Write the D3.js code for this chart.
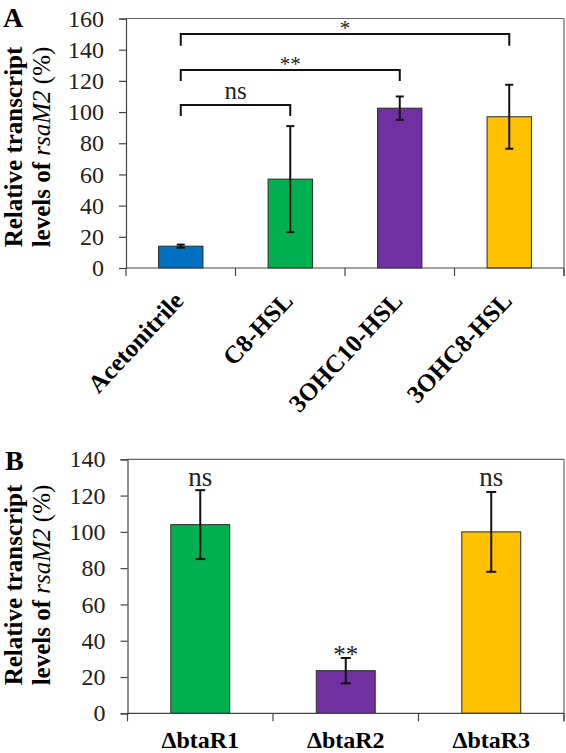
<!DOCTYPE html>
<html>
<head>
<meta charset="utf-8">
<script src="https://cdn.jsdelivr.net/npm/d3@7"></script>
<style>
  html, body { margin: 0; padding: 0; background: #fff; }
  svg { display: block; }
  svg text { font-family: 'Liberation Serif', 'Tinos', 'Times New Roman', 'DejaVu Serif', serif !important; }
</style>
</head>
<body>
<script>
// ---------- Panel A data ----------
const categoriesA = ["Acetonitrile", "C8-HSL", "3OHC10-HSL", "3OHC8-HSL"];
const valuesA = [14, 57, 102.5, 97];
const errorsA = [1, 34, 7.5, 20.5];
const colorsA = ["#0070C0", "#00B050", "#7030A0", "#FFC000"];
const ticksA = [0, 20, 40, 60, 80, 100, 120, 140, 160];
// significance brackets: from category index, to category index, bar level, leg end level, label
const bracketFrom = [0, 0, 0];
const bracketTo = [1, 2, 3];
const bracketLevel = [104.5, 127, 150];
const bracketLegEnd = [97.5, 120, 142.5];
const bracketLabels = ["ns", "**", "*"];

// ---------- Panel B data ----------
const categoriesB = ["\u0394btaR1", "\u0394btaR2", "\u0394btaR3"];
const valuesB = [104, 23.5, 100];
const errorsB = [19, 7, 22];
const colorsB = ["#00B050", "#7030A0", "#FFC000"];
const ticksB = [0, 20, 40, 60, 80, 100, 120, 140];
const labelsB = ["ns", "**", "ns"];

const W = 566, H = 753;
const FONT = "'Liberation Serif', 'Tinos', 'Times New Roman', serif";
const svg = d3.select("body").append("svg").attr("width", W).attr("height", H)
  .attr("font-family", FONT);

function yTitle(g, cy) {
  g.append("text")
    .attr("transform", `translate(21.5,${cy}) rotate(-90)`)
    .attr("text-anchor", "middle")
    .attr("font-size", 25).attr("font-weight", "bold")
    .text("Relative transcript");
  const t2 = g.append("text")
    .attr("transform", `translate(50,${cy}) rotate(-90)`)
    .attr("text-anchor", "middle")
    .attr("font-size", 25);
  t2.append("tspan").attr("font-weight", "bold").text("levels of ");
  t2.append("tspan").attr("font-style", "italic").text("rsaM2");
  t2.append("tspan").text(" (%)");
}

function frame(g, x0, x1, y0, y1, x, n) {
  g.append("line").attr("x1", x0).attr("x2", x1).attr("y1", y0).attr("y2", y0)
    .attr("stroke", "#666").attr("stroke-width", 1.2);
  g.append("line").attr("x1", x1).attr("x2", x1).attr("y1", y0).attr("y2", y1 + 8)
    .attr("stroke", "#666").attr("stroke-width", 1.2);
  const bw = x.bandwidth();
  g.selectAll(null).data(d3.range(n + 1)).join("line")
    .attr("x1", i => x0 + i * bw).attr("x2", i => x0 + i * bw)
    .attr("y1", y1).attr("y2", y1 + 8)
    .attr("stroke", "#444").attr("stroke-width", 1.2);
}

function bars(g, cats, vals, errs, cols, x, y, capW) {
  const bw = x.bandwidth() * 0.405;
  g.selectAll(null).data(cats).join("rect")
    .attr("x", d => x(d) + x.bandwidth() / 2 - bw / 2)
    .attr("width", bw)
    .attr("y", (d, i) => y(vals[i]))
    .attr("height", (d, i) => y(0) - y(vals[i]))
    .attr("fill", (d, i) => cols[i])
    .attr("stroke", "#2a2a2a").attr("stroke-width", 1);
  const eg = g.append("g").attr("stroke", "#111").attr("stroke-width", 2);
  cats.forEach((c, i) => {
    const cx = x(c) + x.bandwidth() / 2;
    const hi = y(vals[i] + errs[i]), lo = y(vals[i] - errs[i]);
    eg.append("line").attr("x1", cx).attr("x2", cx).attr("y1", hi).attr("y2", lo);
    eg.append("line").attr("x1", cx - capW / 2).attr("x2", cx + capW / 2).attr("y1", hi).attr("y2", hi);
    eg.append("line").attr("x1", cx - capW / 2).attr("x2", cx + capW / 2).attr("y1", lo).attr("y2", lo);
  });
}

function yAxis(g, x0, y, ticks) {
  const ax = g.append("g").attr("transform", `translate(${x0},0)`)
    .call(d3.axisLeft(y).tickValues(ticks).tickSize(7).tickPadding(15).tickFormat(d3.format("d")));
  ax.attr("font-family", FONT);
  ax.select(".domain").attr("stroke", "#444").attr("stroke-width", 1.2);
  ax.selectAll(".tick line").attr("stroke", "#444").attr("stroke-width", 1.2);
  ax.selectAll(".tick text").attr("font-size", 24).attr("fill", "#222");
}

// ================= Panel A =================
{
  const x0 = 126, x1 = 564, y0 = 18.5, y1 = 268;
  const g = svg.append("g");
  const x = d3.scaleBand().domain(categoriesA).range([x0, x1]).paddingInner(0).paddingOuter(0);
  const y = d3.scaleLinear().domain([0, 160]).range([y1, y0]);

  g.append("text").attr("x", 3).attr("y", 27).attr("font-size", 28).attr("font-weight", "bold").text("A");
  yTitle(g, 147);
  frame(g, x0, x1, y0, y1, x, categoriesA.length);
  bars(g, categoriesA, valuesA, errorsA, colorsA, x, y, 8);
  g.append("line").attr("x1", x0).attr("x2", x1).attr("y1", y1).attr("y2", y1)
    .attr("stroke", "#444").attr("stroke-width", 1.2);
  yAxis(g, x0, y, ticksA);

  g.selectAll(null).data(categoriesA).join("text")
    .attr("transform", d => `translate(${x(d) + x.bandwidth() / 2 + 4},${y1 + 34}) rotate(-47)`)
    .attr("text-anchor", "end")
    .attr("font-size", 25).attr("font-weight", "bold")
    .text(d => d);

  const cxA = i => x(categoriesA[i]) + x.bandwidth() / 2;
  const bg = g.append("g");
  bracketLabels.forEach((lab, k) => {
    const xa = cxA(bracketFrom[k]), xb = cxA(bracketTo[k]);
    const yl = y(bracketLevel[k]), ye = y(bracketLegEnd[k]);
    bg.append("path")
      .attr("d", `M${xa},${ye}V${yl}H${xb}V${ye}`)
      .attr("fill", "none").attr("stroke", "#111").attr("stroke-width", 2);
    const isNs = lab === "ns";
    bg.append("text")
      .attr("x", (xa + xb) / 2).attr("y", isNs ? yl - 6 : yl + 1)
      .attr("text-anchor", "middle")
      .attr("font-size", isNs ? 25 : 21)
      .attr("fill", "#222")
      .text(lab);
  });
}

// ================= Panel B =================
{
  const x0 = 127.5, x1 = 564, y0 = 459.3, y1 = 713.3;
  const g = svg.append("g");
  const x = d3.scaleBand().domain(categoriesB).range([x0, x1]).paddingInner(0).paddingOuter(0);
  const y = d3.scaleLinear().domain([0, 140]).range([y1, y0]);

  g.append("text").attr("x", 5).attr("y", 470).attr("font-size", 28).attr("font-weight", "bold").text("B");
  yTitle(g, 585);
  frame(g, x0, x1, y0, y1, x, categoriesB.length);
  bars(g, categoriesB, valuesB, errorsB, colorsB, x, y, 10);
  g.append("line").attr("x1", x0).attr("x2", x1).attr("y1", y1).attr("y2", y1)
    .attr("stroke", "#444").attr("stroke-width", 1.2);
  yAxis(g, x0, y, ticksB);

  g.selectAll(null).data(categoriesB).join("text")
    .attr("x", d => x(d) + x.bandwidth() / 2)
    .attr("y", 748)
    .attr("text-anchor", "middle")
    .attr("font-size", 24).attr("font-weight", "bold")
    .text(d => d);

  g.selectAll(null).data(categoriesB).join("text")
    .attr("x", d => x(d) + x.bandwidth() / 2)
    .attr("y", (d, i) => labelsB[i] === "ns" ? 486 : y(valuesB[i] + errorsB[i]) + 5)
    .attr("text-anchor", "middle")
    .attr("font-size", (d, i) => labelsB[i] === "ns" ? 27 : 25)
    .attr("fill", "#222")
    .text((d, i) => labelsB[i]);
}
</script>
</body>
</html>
